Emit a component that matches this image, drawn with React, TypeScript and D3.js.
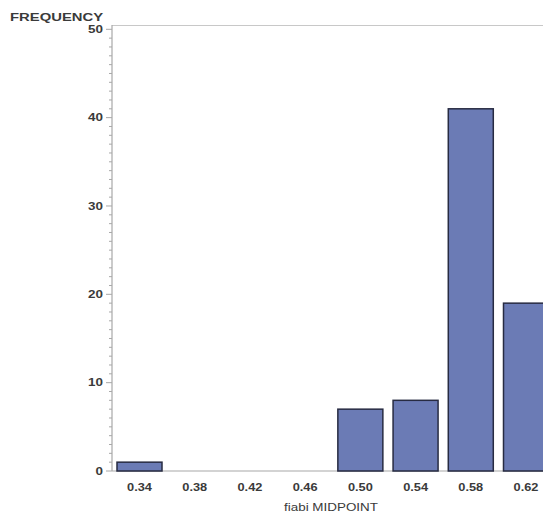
import React from "react";
import * as d3 from "d3";

// Histogram of fiabi midpoints
const categories = ["0.34", "0.38", "0.42", "0.46", "0.50", "0.54", "0.58", "0.62"];
const frequencies = [1, 0, 0, 0, 7, 8, 41, 19];
const yMajorTicks = [0, 10, 20, 30, 40, 50];

const W = 543;
const H = 513;
const STRETCH = 1.28;

type LabelProps = {
  x: number;
  y: number;
  anchor: "start" | "middle" | "end";
  size: number;
  bold?: boolean;
  sx?: number;
  children: React.ReactNode;
};

// Text drawn with a slight horizontal stretch, anchored at (x, y)
function Label({ x, y, anchor, size, bold, sx = STRETCH, children }: LabelProps) {
  return (
    <text
      transform={`translate(${x},${y}) scale(${sx},1)`}
      dy="0.35em"
      textAnchor={anchor}
      fontSize={size}
      fontWeight={bold ? "bold" : "normal"}
      fill="#3a3a3a"
    >
      {children}
    </text>
  );
}

export default function App() {
  const x = d3.scalePoint<string>().domain(categories).range([139.5, 526]);
  const barW = 45;
  const y = d3.scaleLinear().domain([0, 50]).range([471, 29.3]);
  const minorTicks = d3.range(0, 51, 1).filter((v) => v % 10 !== 0);
  const axisX = 112;
  const axisColor = "#a8a8a8";
  const font = "'Liberation Sans', Arial, sans-serif";

  return (
    <svg
      width={W}
      height={H}
      style={{ position: "absolute", left: 0, top: 0, background: "#fff" }}
      fontFamily={font}
    >
      {/* frame top and baseline */}
      <line x1={axisX} x2={W} y1={25.5} y2={25.5} stroke="#c8c8c8" strokeWidth={1} />
      <line x1={axisX} x2={W} y1={y(0)} y2={y(0)} stroke={axisColor} strokeWidth={1.2} />
      <line x1={axisX} x2={axisX} y1={25} y2={y(0)} stroke={axisColor} strokeWidth={1.2} />

      {/* y ticks */}
      {minorTicks.map((t) => (
        <line key={"m" + t} x1={axisX - 3} x2={axisX} y1={y(t)} y2={y(t)} stroke={axisColor} strokeWidth={1} />
      ))}
      {yMajorTicks.map((t) => (
        <g key={"M" + t}>
          <line x1={axisX - 6} x2={axisX} y1={y(t)} y2={y(t)} stroke={axisColor} strokeWidth={1} />
          <Label x={103} y={y(t)} anchor="end" size={10.5} bold>
            {t}
          </Label>
        </g>
      ))}
      <Label x={10} y={17} anchor="start" size={11} bold sx={1.35}>
        FREQUENCY
      </Label>

      {/* bars */}
      {categories.map((c, i) =>
        frequencies[i] > 0 ? (
          <rect
            key={c}
            x={(x(c) as number) - barW / 2}
            y={y(frequencies[i])}
            width={barW}
            height={y(0) - y(frequencies[i])}
            fill="#6b7bb5"
            stroke="#272b42"
            strokeWidth={1.5}
          />
        ) : null
      )}

      {/* x tick labels */}
      {categories.map((c) => (
        <Label key={"l" + c} x={x(c) as number} y={487} anchor="middle" size={10} bold>
          {c}
        </Label>
      ))}
      <Label x={331} y={507} anchor="middle" size={10.5}>
        fiabi MIDPOINT
      </Label>
    </svg>
  );
}
